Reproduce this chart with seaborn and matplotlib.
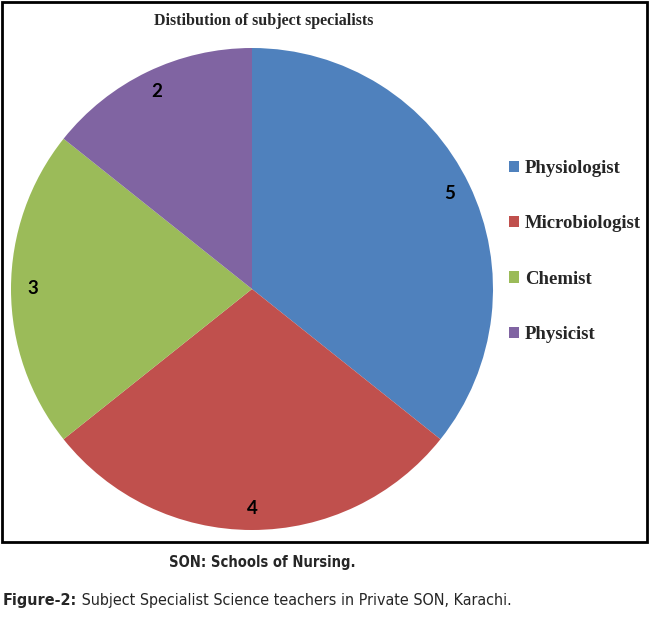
import matplotlib
matplotlib.use("Agg")
import matplotlib.pyplot as plt
import seaborn as sns
from matplotlib.patches import Rectangle

categories = ["Physiologist", "Microbiologist", "Chemist", "Physicist"]
counts = [5, 4, 3, 2]
colors = ["#4F81BD", "#C0504D", "#9BBB59", "#8064A2"]
title = "Distibution of subject specialists"
note = "SON: Schools of Nursing."
fig_label = "Figure-2:"
fig_caption = " Subject Specialist Science teachers in Private SON, Karachi."

sns.set_theme(style="white")
W, H = 650, 621
fig = plt.figure(figsize=(W / 100, H / 100), dpi=100)
fig.patch.set_facecolor("white")

# chart frame
fig.patches.append(Rectangle((2 / W, 1 - 542 / H), 645 / W, 540 / H,
                             transform=fig.transFigure, fill=False,
                             edgecolor="black", linewidth=2))

# pie axes
cx, cy, r = 252, 289, 241
ax = fig.add_axes([(cx - r) / W, 1 - (cy + r) / H, 2 * r / W, 2 * r / H])
wedges, texts = ax.pie(counts, colors=colors, startangle=90, counterclock=False,
                       labels=[str(c) for c in counts], labeldistance=0.91,
                       wedgeprops=dict(linewidth=0),
                       textprops=dict(fontsize=13.5, fontweight="bold",
                                      family=["Lato", "DejaVu Sans"], color="black",
                                      ha="center", va="center"))
ax.set_xlim(-1, 1)
ax.set_ylim(-1, 1)
ax.set_axis_off()

fig.text(264 / W, 1 - 21 / H, title, ha="center", va="center",
         fontsize=11.5, fontweight="bold", family="Liberation Serif")

leg = fig.legend(wedges, categories, loc="center left",
                 bbox_to_anchor=(509 / W, 1 - 251.5 / H),
                 frameon=False, handlelength=0.55, handleheight=0.55,
                 handletextpad=0.3, labelspacing=2.04, borderpad=0, borderaxespad=0,
                 prop=dict(family="Liberation Serif", weight="bold", size=13.5))

cond = dict(family="DejaVu Sans", stretch="condensed")
fig.text(262 / W, 1 - 563 / H, note, ha="center", va="center",
         fontsize=10.5, fontweight="bold", **cond)

t1 = fig.text(3 / W, 1 - 601 / H, fig_label, ha="left", va="center",
              fontsize=11.5, fontweight="bold", **cond)
fig.canvas.draw()
bb = t1.get_window_extent(fig.canvas.get_renderer())
fig.text(bb.x1 / W, 1 - 601 / H, fig_caption, ha="left", va="center",
         fontsize=11.5, **cond)

fig.savefig("out.png", dpi=100)
